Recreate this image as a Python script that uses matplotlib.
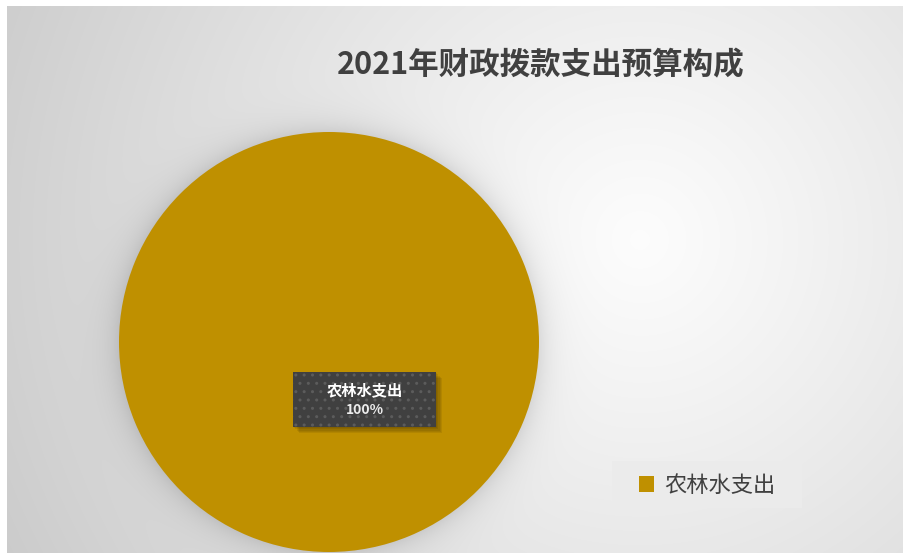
import numpy as np
import matplotlib
matplotlib.use('Agg')
import matplotlib.pyplot as plt
from matplotlib.patches import Rectangle

# ── Data ──────────────────────────────────────────────────────────────────────
title = '2021年财政拨款支出预算构成'
categories = ['农林水支出']
values = [100.0]
colors = ['#BF9000']

plt.rcParams['font.family'] = ['Noto Sans CJK SC', 'DejaVu Sans']

W, H = 904, 556
fig = plt.figure(figsize=(W / 100, H / 100), dpi=100, facecolor='white')

# ── Background (pixel coordinates) ────────────────────────────────────────────
ax_bg = fig.add_axes([0, 0, 1, 1])
x0, x1, y0, y1 = 7, W, 6, 553
pcx, pcy, pr = 329, 342, 210   # pie centre / radius in pixels

xx, yy = np.meshgrid(np.arange(x0, x1) + 0.5, np.arange(y0, y1) + 0.5)
d = np.hypot(xx - 640, yy - 240)
shade = 0.99 - 0.19 * np.clip(d / 700, 0, 1) ** 1.1
dp = np.hypot(xx - pcx, yy - pcy) - pr
shade -= 0.10 * np.exp(-np.clip(dp, 0, None) / 14)
img = np.dstack([shade] * 3)
ax_bg.imshow(img, extent=(x0, x1, y1, y0), interpolation='bilinear',
             aspect='auto', zorder=0)
ax_bg.add_patch(Rectangle((612, 461), 190, 47, facecolor='#ebebeb',
                          edgecolor='none', zorder=2))
ax_bg.set_xlim(0, W)
ax_bg.set_ylim(H, 0)
ax_bg.axis('off')

# ── Pie ───────────────────────────────────────────────────────────────────────
ax = fig.add_axes([(pcx - pr) / W, (H - pcy - pr) / H, 2 * pr / W, 2 * pr / H])
wedges, _ = ax.pie(values, colors=colors, radius=1, startangle=90,
                   counterclock=False)
ax.set_xlim(-1, 1)
ax.set_ylim(-1, 1)
ax.axis('off')

# data label box
u = 1 / pr
bx, by, bw, bh = 364.5, 399.5, 143, 55
cxu, cyu = (bx - pcx) * u, -(by - pcy) * u
for k in range(1, 6):
    off = k * 1.2 * u
    ax.add_patch(Rectangle((cxu - bw * u / 2 + off, cyu - bh * u / 2 - off),
                           bw * u, bh * u, facecolor='black', alpha=0.07,
                           edgecolor='none', zorder=3))
ax.add_patch(Rectangle((cxu - bw * u / 2, cyu - bh * u / 2), bw * u, bh * u,
                       facecolor='#404040', edgecolor='#5c5c5c', hatch='..',
                       linewidth=0, zorder=4))
pct = values[0] / sum(values)
ax.text(cxu, -(390 - pcy) * u, categories[0], ha='center', va='center',
        color='white', fontsize=11, fontweight='bold', zorder=5)
ax.text(cxu, -(410 - pcy) * u, f'{pct:.0%}', ha='center', va='center',
        color='#ececec', fontsize=10, fontweight='bold', zorder=5)

# ── Title & legend ────────────────────────────────────────────────────────────
fig.text(541 / W, 1 - 65 / H, title, ha='center', va='center',
         fontsize=22, fontweight='bold', color='#404040')
fig.legend(wedges, categories, loc='center',
           bbox_to_anchor=(707 / W, 1 - 485 / H), frameon=False, fontsize=16,
           handlelength=0.7, handleheight=0.7, handletextpad=0.45,
           labelcolor='#404040')

fig.savefig('out.png', dpi=100, facecolor='white')
